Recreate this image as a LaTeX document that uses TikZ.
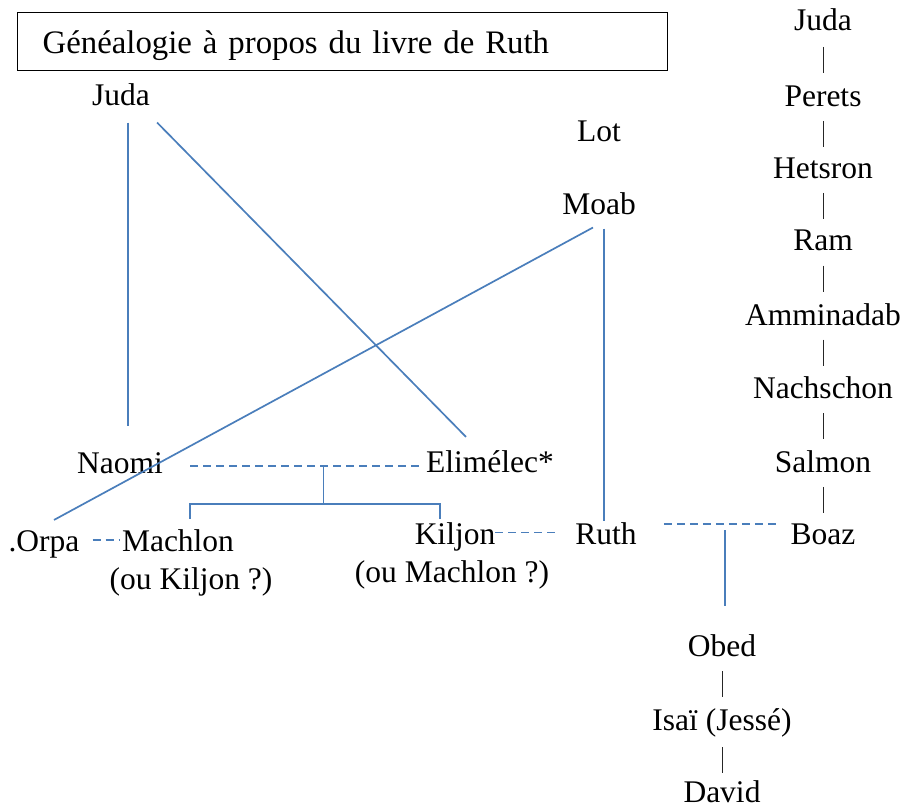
\documentclass[tikz,border=0pt]{standalone}
\usepackage{fontspec}
\setmainfont{Liberation Serif}
\usepackage{tikz}
\usetikzlibrary{positioning,calc}
\definecolor{lineblue}{HTML}{4A7EBB}
\tikzset{
  person/.style={font=\fontsize{31.5}{38}\selectfont, inner sep=0pt, anchor=base},
  rel/.style={draw=lineblue, line width=1.7pt},
  wed/.style={rel, dash pattern=on 8pt off 5pt},
  bar/.style={draw=black!85, line width=1pt},
  titlebox/.style={draw, line width=1.3pt, font=\fontsize{32.8}{38}\selectfont,
    inner xsep=25pt, inner ysep=0pt, text width=600pt, align=left,
    text height=41pt, text depth=17pt, anchor=north west}
}
\begin{document}
\begin{tikzpicture}[x=1pt,y=-1pt]
\useasboundingbox (0,0) rectangle (905,804);
\node[titlebox] (title) at (17,12) {Généalogie à propos du livre de Ruth};

	\node[person] (judaL) at (121,105) {Juda};
	\node[person] (lot) at (599,141) {Lot};
	\node[person] (moab) at (599,214) {Moab};
	\node[person] (naomi) at (120,473) {Naomi};
	\node[person] (elimelec) at (490,472) {Elimélec*};
	\node[person] (orpa) at (44,551) {.Orpa};
	\node[person] (machlon) at (178,551) {Machlon};
	\node[person] (machlonAlt) at (191,589) {(ou Kiljon ?)};
	\node[person] (kiljon) at (455,544) {Kiljon};
	\node[person] (kiljonAlt) at (452,582) {(ou Machlon ?)};
	\node[person] (ruth) at (606,544) {Ruth};
	\node[person] (obed) at (722,656) {Obed};
	\node[person] (isai) at (722,730) {Isaï (Jessé)};
	\node[person] (david) at (722,802) {David};

	\foreach \name/\txt/\y in {juda/Juda/30, perets/Perets/106, hetsron/Hetsron/178,
	  ram/Ram/250, amminadab/Amminadab/325, nachschon/Nachschon/398,
	  salmon/Salmon/472, boaz/Boaz/544}
	  \node[person] (\name) at (823,\y) {\txt};

	\foreach \a/\b in {juda/perets, perets/hetsron, hetsron/ram, ram/amminadab,
	  amminadab/nachschon, nachschon/salmon, salmon/boaz, obed/isai, isai/david}
	  \draw[bar] ($(\a.south)!.5!(\b.north)$) ++(0,-11) -- ++(0,26);

	\draw[rel, shorten <=17pt, shorten >=26pt] ([xshift=7pt]judaL.south) -- ([xshift=7pt]judaL.south |- naomi.north);
	\draw[rel] ([shift={(7pt,-17pt)}]judaL.south east) -- ([shift={(-24pt,13pt)}]elimelec.north);
	\draw[rel] ([shift={(-6pt,-13pt)}]moab.south) -- ([shift={(10pt,10pt)}]orpa.north);
	\draw[rel, shorten <=14pt, shorten >=1pt] ([xshift=-2pt]ruth.north |- moab.south) -- ([xshift=-2pt]ruth.north);

	\draw[wed, shorten <=27pt, shorten >=3pt] ([yshift=-3pt]naomi.east) -- coordinate[pos=.61] (ne) ([yshift=-3pt]naomi.east -| elimelec.west);
	\draw[rel] (ne) -- ++(0,38) coordinate (fork);
	\draw[rel] ([shift={(12pt,10pt)}]machlon.north) |- (fork) -| ([shift={(-15pt,3pt)}]kiljon.north);

	\draw[wed, shorten <=13pt, shorten >=2pt] ([yshift=4pt]orpa.east) -- ([yshift=4pt]orpa.east -| machlon.west);
	\draw[wed, shorten >=17pt] ([yshift=4pt]kiljon.east) -- ([yshift=4pt]kiljon.east -| ruth.west);
	\draw[wed, shorten <=27pt, shorten >=12pt] ([yshift=9pt]ruth.east) -- coordinate[pos=.574] (rb) ([yshift=9pt]ruth.east -| boaz.west);
	\draw[rel, shorten <=6pt, shorten >=28pt] (rb) -- (rb |- obed.north);
\end{tikzpicture}
\end{document}
